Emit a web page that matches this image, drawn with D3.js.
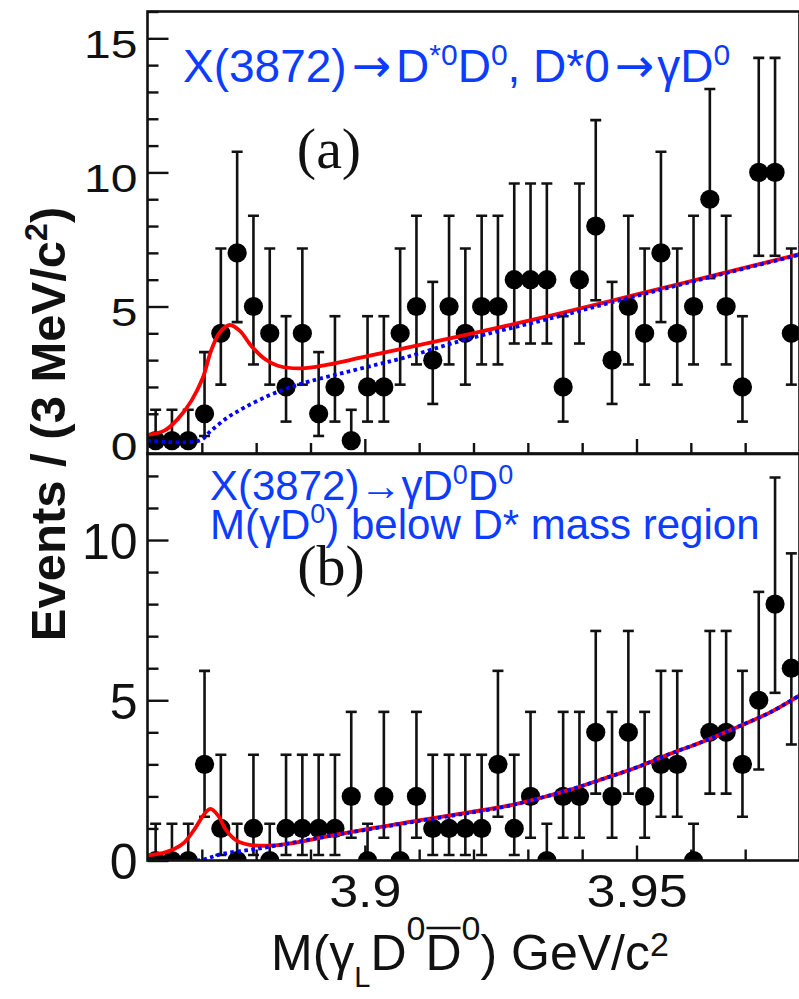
<!DOCTYPE html>
<html>
<head>
<meta charset="utf-8">
<script src="https://cdn.jsdelivr.net/npm/d3@7"></script>
<style>
  html, body { margin: 0; padding: 0; background: #fff; }
  svg { display: block; }
</style>
</head>
<body>
<svg id="chart" width="799" height="999"></svg>
<script>
// Bin centres of the 3 MeV/c^2 mass bins (GeV/c^2)
const massBins = [
  3.8615, 3.8645, 3.8675, 3.8705, 3.8735, 3.8765, 3.8795, 3.8825, 3.8855, 3.8885,
  3.8915, 3.8945, 3.8975, 3.9005, 3.9035, 3.9065, 3.9095, 3.9125, 3.9155, 3.9185,
  3.9215, 3.9245, 3.9275, 3.9305, 3.9335, 3.9365, 3.9395, 3.9425, 3.9455, 3.9485,
  3.9515, 3.9545, 3.9575, 3.9605, 3.9635, 3.9665, 3.9695, 3.9725, 3.9755, 3.9785
];

// (a) X(3872) -> D*0 D0, D*0 -> gamma D0
const countsA = [
  0, 0, 0, 1, 4, 7, 5, 4, 2, 4,
  1, 2, 0, 2, 2, 4, 5, 3, 5, 4,
  5, 5, 6, 6, 6, 2, 6, 8, 3, 5,
  4, 7, 4, 5, 9, 5, 2, 10, 10, 4
];

// (b) X(3872) -> gamma D0 D0, M(gamma D0) below the D* mass region
const countsB = [
  0, 0, 0, 3, 1, 0, 1, 0, 1, 1,
  1, 1, 2, 0, 2, 0, 2, 1, 1, 1,
  1, 3, 1, 2, 0, 2, 2, 4, 2, 4,
  2, 3, 3, 0, 4, 4, 3, 5, 8, 6
];

// 68% Poisson interval edges, indexed by the observed count
const poissonLower = [0, 0.173, 0.708, 1.367, 2.086, 2.840, 3.620, 4.419, 5.232, 6.057, 6.891];
const poissonUpper = [1.148, 3.300, 4.638, 5.918, 7.163, 8.382, 9.584, 10.77, 11.95, 13.11, 14.27];

// Fit results, [mass, events per bin]
const fitTotalA = [
  [3.8600, 0.21], [3.8631, 0.37], [3.8656, 0.81], [3.8681, 1.49], [3.8702, 2.35],
  [3.8717, 3.35], [3.8733, 4.03], [3.8751, 4.31], [3.8770, 4.09], [3.8791, 3.53],
  [3.8816, 3.04], [3.8840, 2.79], [3.8883, 2.69], [3.8932, 2.83], [3.8994, 3.10],
  [3.9074, 3.45], [3.9184, 3.93], [3.9350, 4.70], [3.9501, 5.45], [3.9650, 6.20],
  [3.9800, 6.95]
];
const fitBkgA = [
  [3.8600, 0.00], [3.8696, 0.00], [3.8717, 0.37], [3.8748, 0.87], [3.8779, 1.24],
  [3.8822, 1.67], [3.8859, 1.96], [3.8902, 2.23], [3.8963, 2.54], [3.9025, 2.85],
  [3.9074, 3.10], [3.9184, 3.76], [3.9350, 4.60], [3.9501, 5.40], [3.9650, 6.17],
  [3.9800, 6.93]
];
const fitTotalB = [
  [3.8600, 0.16], [3.8634, 0.26], [3.8665, 0.52], [3.8687, 0.99], [3.8705, 1.46],
  [3.8716, 1.61], [3.8730, 1.40], [3.8745, 0.94], [3.8764, 0.62], [3.8788, 0.49],
  [3.8831, 0.47], [3.8893, 0.62], [3.8954, 0.83], [3.9077, 1.19], [3.9194, 1.51],
  [3.9255, 1.68], [3.9316, 1.92], [3.9378, 2.21], [3.9439, 2.55], [3.9501, 2.91],
  [3.9562, 3.33], [3.9624, 3.72], [3.9685, 4.16], [3.9747, 4.63], [3.9800, 5.15]
];
const fitBkgB = [
  [3.8600, 0.00], [3.8693, 0.00], [3.8739, 0.21], [3.8800, 0.36], [3.8862, 0.54],
  [3.8923, 0.73], [3.9077, 1.17], [3.9194, 1.49], [3.9255, 1.67], [3.9316, 1.92],
  [3.9378, 2.21], [3.9439, 2.55], [3.9501, 2.91], [3.9562, 3.33], [3.9624, 3.72],
  [3.9685, 4.16], [3.9747, 4.63], [3.9800, 5.15]
];

// Axis ticks
const xTickLabels = [3.9, 3.95];
const xMinorTicks = [3.87, 3.88, 3.89, 3.91, 3.92, 3.93, 3.94, 3.96, 3.97];
const yTickLabelsA = [0, 5, 10, 15];
const yTickLabelsB = [0, 5, 10];
const yMinorA = [1, 2, 3, 4, 6, 7, 8, 9, 11, 12, 13, 14, 16];
const yMinorB = [1, 2, 3, 4, 6, 7, 8, 9, 11, 12];

const FONT = "'Liberation Sans', Arial, Helvetica, sans-serif";
const ARROW_FONT = "'DejaVu Sans', sans-serif";
const SERIF = "'Liberation Serif', 'Times New Roman', serif";
const LABEL_BLUE = "#0b3cff";

const svg = d3.select("#chart");

const x = d3.scaleLinear().domain([3.86, 3.98]).range([147.5, 799.5]);
const yA = d3.scaleLinear().domain([-0.5, 16]).range([454, 11.5]);
const yB = d3.scaleLinear().domain([0, 12.7]).range([860.5, 453.5]);

function drawPanel(id, y, counts, total, bkg, majors, minors, labelFont, labelDy, labelScaleY) {
  const [y0, y1] = y.range();
  const g = svg.append("g").attr("class", "panel-" + id);
  const x0 = x.range()[0], x1 = x.range()[1];

  g.append("clipPath").attr("id", "clip-" + id)
    .append("rect").attr("x", x0).attr("y", y1).attr("width", x1 - x0).attr("height", y0 - y1);

  // y axis: major ticks with labels, minor ticks without
  const ax = g.append("g").attr("transform", `translate(${x0},0)`)
    .call(d3.axisLeft(y).tickValues(majors).tickSize(-21).tickPadding(10).tickFormat(d3.format("d")));
  ax.select(".domain").remove();
  ax.selectAll("line").attr("stroke", "#111").attr("stroke-width", 2.4);
  ax.selectAll("text")
    .attr("font-family", FONT).attr("font-size", labelFont).attr("fill", "#111")
    .attr("dy", labelDy)
    .attr("transform", `scale(1,${labelScaleY})`);

  const axm = g.append("g").attr("transform", `translate(${x0},0)`)
    .call(d3.axisLeft(y).tickValues(minors).tickSize(-11).tickFormat(""));
  axm.select(".domain").remove();
  axm.selectAll("line").attr("stroke", "#111").attr("stroke-width", 2.4);

  // x ticks along the lower edge
  const xb = g.append("g").attr("transform", `translate(0,${y0})`)
    .call(d3.axisBottom(x).tickValues(xMinorTicks).tickSize(-11).tickFormat(""));
  xb.select(".domain").remove();
  xb.selectAll("line").attr("stroke", "#111").attr("stroke-width", 2.4);
  const xbm = g.append("g").attr("transform", `translate(0,${y0})`)
    .call(d3.axisBottom(x).tickValues(xTickLabels).tickSize(-15).tickFormat(""));
  xbm.select(".domain").remove();
  xbm.selectAll("line").attr("stroke", "#111").attr("stroke-width", 2.4);

  // Data: error bars then markers
  const data = counts.map((n, i) => ({ m: massBins[i], n: n, lo: poissonLower[n], hi: poissonUpper[n] }));
  const pts = g.append("g").attr("clip-path", `url(#clip-${id})`);
  const eb = pts.selectAll("g.eb").data(data).join("g").attr("class", "eb")
    .attr("stroke", "#111").attr("stroke-width", 2.6);
  eb.append("line").attr("x1", d => x(d.m)).attr("x2", d => x(d.m))
    .attr("y1", d => y(d.lo)).attr("y2", d => y(d.hi));
  eb.append("line").attr("x1", d => x(d.m) - 5.5).attr("x2", d => x(d.m) + 5.5)
    .attr("y1", d => y(d.hi)).attr("y2", d => y(d.hi));
  eb.filter(d => d.n > 0).append("line").attr("x1", d => x(d.m) - 5.5).attr("x2", d => x(d.m) + 5.5)
    .attr("y1", d => y(d.lo)).attr("y2", d => y(d.lo));
  pts.selectAll("circle").data(data).join("circle")
    .attr("cx", d => x(d.m)).attr("cy", d => y(d.n)).attr("r", 9.6).attr("fill", "#000");

  // Fit curves
  const line = d3.line().x(d => x(d[0])).y(d => y(d[1])).curve(d3.curveCatmullRom.alpha(0.5));
  pts.append("path").datum(total).attr("d", line)
    .attr("fill", "none").attr("stroke", "#ff0000").attr("stroke-width", 3.8);
  pts.append("path").datum(bkg).attr("d", line)
    .attr("fill", "none").attr("stroke", "#0000ff").attr("stroke-width", 3.8)
    .attr("stroke-dasharray", "3.6,3.4");

  // Frame
  g.append("rect").attr("x", x0).attr("y", y1).attr("width", x1 - x0).attr("height", y0 - y1)
    .attr("fill", "none").attr("stroke", "#111").attr("stroke-width", 2.6);
  return g;
}

drawPanel("a", yA, countsA, fitTotalA, fitBkgA, yTickLabelsA, yMinorA, 48, "0.5em", 0.8);
drawPanel("b", yB, countsB, fitTotalB, fitBkgB, yTickLabelsB, yMinorB, 50, "0.36em", 1);

// x tick labels under the lower panel
const xl = svg.append("g").attr("transform", `translate(0,${yB.range()[0]})`)
  .call(d3.axisBottom(x).tickValues(xTickLabels).tickSize(0).tickPadding(0).tickFormat(d3.format("")));
xl.select(".domain").remove();
xl.selectAll("text")
  .attr("font-family", FONT).attr("font-size", 52).attr("fill", "#111")
  .attr("y", 0).attr("dy", 0)
  .attr("transform", "translate(0,46) scale(1,0.88)");

// Panel annotations
function addText(parent, px, py, size, color, family, parts) {
  const t = parent.append("text").attr("x", px).attr("y", py)
    .attr("font-family", family).attr("font-size", size).attr("fill", color);
  parts.forEach(p => {
    const s = t.append("tspan").text(p.t);
    if (p.size) s.attr("font-size", p.size);
    if (p.dy) s.attr("dy", p.dy);
    if (p.id) s.attr("id", p.id);
    if (p.family) s.attr("font-family", p.family);
    if (p.dx) s.attr("dx", p.dx);
  });
  return t;
}

addText(svg, 183, 82, 46, LABEL_BLUE, FONT, [
  { t: "X(3872)" }, { t: "\u2192", family: ARROW_FONT, size: 47, dx: 5 }, { t: "D", dx: 5 },
  { t: "*0", size: 30, dy: -17 }, { t: "D", dy: 17 },
  { t: "0", size: 30, dy: -17 }, { t: ", D*0", dy: 17 },
  { t: "\u2192", family: ARROW_FONT, size: 47, dx: 5 }, { t: "\u03b3D", dx: 3 }, { t: "0", size: 30, dy: -17 }
]);

addText(svg, 329, 168, 58, "#111", SERIF, [{ t: "(a)" }]).attr("text-anchor", "middle");

addText(svg, 210, 500, 42, LABEL_BLUE, FONT, [
  { t: "X(3872)" }, { t: "\u2192" }, { t: "\u03b3D" },
  { t: "0", size: 27, dy: -16 }, { t: "D", dy: 16 }, { t: "0", size: 27, dy: -16 }
]);
addText(svg, 210, 539, 42, LABEL_BLUE, FONT, [
  { t: "M(\u03b3D" }, { t: "0", size: 27, dy: -16 }, { t: ") below D* mass region", dy: 16 }
]);

addText(svg, 331, 585, 58, "#111", SERIF, [{ t: "(b)" }]).attr("text-anchor", "middle");

// Axis titles
const yt = svg.append("text")
  .attr("transform", "translate(65,424) rotate(-90)")
  .attr("text-anchor", "middle")
  .attr("font-family", FONT).attr("font-weight", "bold").attr("font-size", 49).attr("fill", "#111");
yt.append("tspan").text("Events / (3 MeV/c");
yt.append("tspan").attr("font-size", 32).attr("dy", -18).text("2");
yt.append("tspan").attr("dy", 18).text(")");

addText(svg, 271, 970, 50, "#111", FONT, [
  { t: "M(\u03b3" }, { t: "L", size: 29, dy: 17 }, { t: "D", dy: -17 },
  { t: "0", size: 34, dy: -30 }, { t: "D", dy: 30, id: "dbar" },
  { t: "0", size: 34, dy: -30 }, { t: ") GeV/c", dy: 30 },
  { t: "2", size: 34, dy: -14 }
]);

// Bar over the anti-D
const dbar = document.getElementById("dbar");
if (dbar) {
  const bb = dbar.getBBox();
  svg.append("line").attr("x1", bb.x + 1).attr("x2", bb.x + bb.width - 1)
    .attr("y1", 928).attr("y2", 928).attr("stroke", "#111").attr("stroke-width", 2.6);
}
</script>
</body>
</html>
